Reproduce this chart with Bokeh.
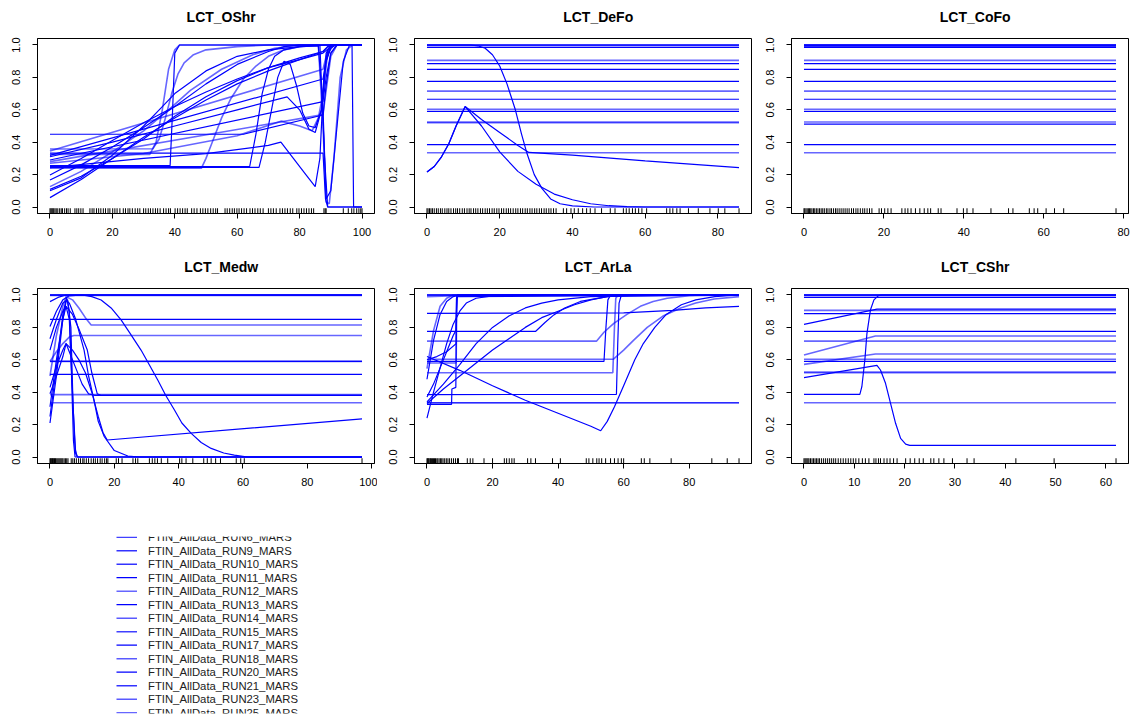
from bokeh.plotting import figure
from bokeh.layouts import column, row
from bokeh.models import Range1d, FixedTicker, PrintfTickFormatter, ColumnDataSource
from bokeh.embed import file_html
from bokeh.resources import INLINE
from bokeh.core.properties import value

FONT = "Liberation Sans"
BLUE = "#0000ff"
SOFT, SOLID = 0.6, 1.0

y_ticks = [0.0, 0.2, 0.4, 0.6, 0.8, 1.0]

# ---------------- LCT_OShr ----------------
oshr_xticks = [0, 20, 40, 60, 80, 100]
oshr_rug = [0.0, 0.3, 0.6, 0.9, 1.2, 1.6, 2.0, 2.5, 3.1, 3.6, 4.0, 4.7, 5.3, 5.8, 6.5, 8.0, 8.6, 9.2,
            9.9, 10.6, 12.8, 13.5, 14.1, 14.9, 15.6, 16.3, 17.1, 17.8, 18.6, 19.2, 20.1, 20.8, 21.5,
            22.4, 23.5, 24.2, 25.0, 25.6, 26.4, 27.3, 28.1, 28.8, 30.0, 30.7, 31.5, 32.2, 33.0, 33.8,
            34.5, 35.3, 36.4, 37.2, 38.0, 38.6, 40.1, 40.9, 41.7, 42.5, 43.3, 44.0, 45.4, 46.2, 47.1,
            48.2, 49.0, 49.8, 50.6, 51.5, 52.3, 53.1, 53.7, 56.1, 56.8, 57.6, 58.4, 59.1, 59.9, 60.6,
            61.4, 62.2, 63.0, 64.1, 64.9, 65.7, 66.6, 67.4, 68.3, 70.0, 70.8, 71.6, 72.5, 73.7, 74.5,
            75.3, 76.1, 77.0, 77.8, 79.1, 79.8, 80.6, 81.4, 82.2, 83.0, 83.8, 84.5, 87.8, 88.2, 88.5,
            94.0, 95.6, 96.7, 97.4, 98.3, 99.0, 99.6, 100.0]
oshr_curves = [
    ([0, 62, 87.5, 88.5, 90, 92, 100], [0.449, 0.449, 0.568, 0.75, 0.95, 1.0, 1.0]),
    ([0, 87.5, 88.3, 89, 100], [0.333, 0.333, 0.05, 0.0, 0.0]),
    ([0, 32, 34, 36, 38, 40, 41.5, 86, 87.5, 88.5, 89.5, 91, 93, 95, 97, 100],
     [0.325, 0.325, 0.4, 0.6, 0.85, 0.97, 1.0, 1.0, 0.5, 0.03, 0.02, 0.3, 0.8, 0.97, 1.0, 1.0]),
    ([0, 38.5, 39.3, 40, 41.5, 86.5, 88, 89, 100], [0.255, 0.255, 0.6, 0.95, 1.0, 1.0, 0.3, 0.0, 0.0]),
    ([0, 48.5, 50, 52, 55, 58, 62, 66, 70, 75, 80, 88, 100],
     [0.239, 0.239, 0.3, 0.4, 0.55, 0.67, 0.79, 0.87, 0.93, 0.97, 0.99, 1.0, 1.0]),
    ([0, 64, 66, 68, 70, 72, 75, 80, 88, 100], [0.25, 0.25, 0.45, 0.7, 0.85, 0.93, 0.97, 0.99, 1.0, 1.0]),
    ([0, 67, 69, 71, 73, 75, 77, 79, 81, 83, 85, 87, 88, 89, 90, 100],
     [0.245, 0.245, 0.4, 0.6, 0.8, 0.9, 0.88, 0.75, 0.58, 0.5, 0.49, 0.6, 0.85, 0.97, 1.0, 1.0]),
    ([0, 87.5, 88.5, 90, 91, 100], [0.346, 0.85, 0.93, 0.99, 1.0, 1.0]),
    ([0, 87.5, 88.5, 90, 91.5, 100], [0.319, 0.79, 0.9, 0.98, 1.0, 1.0]),
    ([0, 87.5, 88.5, 90, 92, 100], [0.29, 0.65, 0.8, 0.95, 1.0, 1.0]),
    ([0, 87.5, 88.5, 90, 92, 100], [0.28, 0.57, 0.72, 0.93, 1.0, 1.0]),
    ([0, 10, 20, 30, 40, 50, 60, 70, 80, 87.5, 90, 92, 100],
     [0.198, 0.3, 0.41, 0.52, 0.62, 0.71, 0.79, 0.86, 0.91, 0.95, 0.99, 1.0, 1.0]),
    ([0, 10, 20, 30, 40, 50, 60, 70, 75, 80, 96.8, 97.3, 100],
     [0.167, 0.26, 0.37, 0.49, 0.62, 0.76, 0.88, 0.96, 0.99, 1.0, 1.0, 0.0, 0.0]),
    ([0, 10, 20, 30, 38, 45, 55, 65, 72, 80, 100],
     [0.126, 0.22, 0.34, 0.47, 0.6, 0.72, 0.85, 0.94, 0.98, 1.0, 1.0]),
    ([0, 10, 20, 30, 40, 50, 60, 70, 80, 87.5, 89, 91, 100],
     [0.109, 0.19, 0.3, 0.42, 0.56, 0.68, 0.78, 0.86, 0.92, 0.96, 0.99, 1.0, 1.0]),
    ([0, 10, 20, 30, 35, 40, 50, 60, 70, 80, 86, 87.5, 88.5, 90, 92, 94, 96, 100],
     [0.10, 0.18, 0.32, 0.5, 0.6, 0.7, 0.84, 0.93, 0.97, 0.99, 0.995, 0.6, 0.05, 0.1, 0.5, 0.9, 1.0, 1.0]),
    ([0, 10, 20, 30, 40, 50, 60, 70, 80, 87.5, 89, 91, 100],
     [0.058, 0.17, 0.3, 0.43, 0.55, 0.66, 0.76, 0.84, 0.91, 0.96, 0.99, 1.0, 1.0]),
    ([0, 30, 60, 74, 80, 84, 86, 87.5, 89, 91, 100],
     [0.27, 0.33, 0.44, 0.53, 0.5, 0.47, 0.55, 0.7, 0.95, 1.0, 1.0]),
    ([0, 20, 40, 60, 76, 80, 83, 85, 87, 88.5, 90, 100],
     [0.31, 0.4, 0.5, 0.6, 0.68, 0.6, 0.48, 0.46, 0.6, 0.9, 1.0, 1.0]),
    ([0, 30, 50, 70, 74, 78, 82, 85, 86.5, 87.5, 88.5, 90, 100],
     [0.243, 0.3, 0.33, 0.38, 0.40, 0.3, 0.2, 0.126, 0.3, 0.7, 0.95, 1.0, 1.0]),
    ([0, 33, 35, 37, 39, 41, 43, 46, 50, 60, 70, 100],
     [0.358, 0.36, 0.42, 0.55, 0.7, 0.82, 0.89, 0.94, 0.97, 0.99, 1.0, 1.0]),
]
oshr_alpha = [1, 1, 0.6, 1, 0.6, 1, 1, 0.6, 1, 1, 0.6, 1, 1, 0.6, 1, 1, 1, 0.6, 1, 1, 0.6]

# ---------------- LCT_DeFo ----------------
defo_xticks = [0, 20, 40, 60, 80]
defo_rug = [0.0, 0.3, 0.7, 1.1, 1.5, 2.0, 2.6, 3.1, 3.7, 4.2, 4.9, 5.5, 6.0, 6.6, 7.3, 7.9, 8.4, 9.0,
            9.7, 10.3, 11.0, 11.6, 12.1, 12.8, 13.4, 14.0, 14.7, 15.3, 16.0, 16.6, 17.2, 17.9, 18.5,
            19.2, 19.8, 20.5, 21.1, 21.8, 22.4, 23.0, 23.7, 24.4, 25.0, 25.7, 26.3, 27.0, 27.6, 28.3,
            28.9, 29.6, 30.2, 30.9, 31.5, 32.2, 32.8, 33.5, 34.1, 34.8, 35.5, 37.5, 38.4, 39.6, 40.5,
            41.6, 42.8, 43.9, 44.9, 46.2, 48.0, 50.4, 51.7, 54.0, 54.8, 55.6, 56.5, 57.3, 58.2, 59.1,
            60.4, 65.9, 66.8, 67.6, 68.7, 69.6, 71.9, 74.6, 77.8, 80.1, 81.9, 85.8]
defo_levels = [1.0, 1.0, 0.997, 0.985, 0.905, 0.885, 0.85, 0.775, 0.715, 0.665, 0.603, 0.59,
               0.525, 0.52, 0.385, 0.335]
defo_level_alpha = [1, 1, 0.6, 1, 0.6, 1, 1, 1, 0.6, 1, 0.6, 1, 0.6, 0.6, 1, 0.6]
defo_curves = [
    ([0, 12, 14, 16, 18, 20, 22, 24.3, 26, 27.5, 29.5, 31.6, 34, 36.6, 40, 46, 85.8],
     [1, 1, 0.995, 0.98, 0.94, 0.87, 0.76, 0.6, 0.45, 0.33, 0.2, 0.115, 0.05, 0.02, 0.007, 0, 0]),
    ([0, 2, 4, 6, 8, 10.5, 15, 20, 25, 28, 40, 60, 85.8],
     [0.216, 0.25, 0.31, 0.39, 0.5, 0.62, 0.54, 0.46, 0.38, 0.337, 0.32, 0.285, 0.243]),
    ([0, 2, 4, 6, 8, 10.5, 15, 20, 25, 30, 35, 40, 45, 50, 55, 60, 85.8],
     [0.216, 0.25, 0.31, 0.39, 0.5, 0.62, 0.5, 0.34, 0.22, 0.14, 0.08, 0.045, 0.02, 0.008, 0.003, 0.0, 0.0]),
]
defo_curve_alpha = [1, 1, 1]

# ---------------- LCT_CoFo ----------------
cofo_xticks = [0, 20, 40, 60, 80]
cofo_rug = [0.0, 0.2, 0.5, 0.8, 1.1, 1.4, 1.7, 2.0, 2.4, 2.7, 3.1, 3.5, 3.9, 4.3, 4.7, 5.1, 5.6, 6.0,
            6.5, 6.9, 7.4, 7.9, 8.3, 8.8, 9.3, 9.8, 10.3, 10.8, 11.3, 11.9, 12.4, 13.0, 13.5, 14.1,
            14.7, 15.2, 15.8, 16.4, 17.0, 18.8, 19.4, 20.2, 21.0, 21.8, 24.5, 25.3, 26.0, 26.8, 27.9,
            29.0, 30.1, 31.0, 31.7, 33.6, 34.3, 38.3, 39.9, 40.8, 42.3, 46.8, 51.2, 52.3, 56.4, 57.6,
            58.5, 60.6, 62.7, 65.0, 78.1]
cofo_levels = [1.0, 1.0, 1.0, 0.997, 0.993, 0.985, 0.905, 0.885, 0.85, 0.775, 0.715, 0.665, 0.603,
               0.59, 0.525, 0.512, 0.385, 0.335]
cofo_level_alpha = [1, 1, 1, 0.6, 1, 1, 0.6, 1, 1, 1, 0.6, 1, 0.6, 1, 0.6, 1, 1, 0.6]

# ---------------- LCT_Medw ----------------
medw_xticks = [0, 20, 40, 60, 80, 100]
medw_rug = [0.0, 0.2, 0.4, 0.6, 0.8, 1.0, 1.2, 1.4, 1.7, 1.9, 2.2, 2.5, 2.8, 3.1, 3.4, 3.7, 4.0, 4.4,
            4.8, 5.2, 5.6, 6.6, 7.1, 7.6, 8.2, 8.9, 9.5, 10.2, 10.6, 11.3, 12.0, 12.8, 13.5, 14.1,
            14.8, 15.6, 16.2, 17.0, 17.6, 18.0, 20.6, 21.3, 22.4, 25.8, 26.6, 27.3, 30.9, 31.8, 32.6,
            33.4, 34.6, 36.6, 40.3, 41.0, 42.3, 44.4, 47.8, 48.9, 50.1, 51.5, 53.0, 57.9, 59.3, 60.4,
            97.0]
medw_levels = [1.0, 1.0, 1.0, 0.997, 0.85, 0.59, 0.59, 0.51, 0.385, 0.335]
medw_level_alpha = [1, 1, 1, 0.6, 1, 0.6, 1, 1, 0.6, 0.6]
medw_curves = [
    ([0, 2.5, 5, 97], [0.959, 0.985, 1.0, 1.0]),
    ([0, 2, 4, 5.5, 6.5, 7.2, 8, 8.6, 97], [0.73, 0.85, 0.95, 0.97, 0.8, 0.3, 0.02, 0.0, 0.0]),
    ([0, 2, 4, 5, 7, 9, 11.6, 13, 14.7, 16, 97],
     [0.66, 0.8, 0.9, 0.93, 0.88, 0.79, 0.66, 0.52, 0.39, 0.38, 0.38]),
    ([0, 2, 4, 6, 7.4, 97], [0.59, 0.65, 0.7, 0.74, 0.75, 0.75]),
    ([0, 2, 4, 5, 7, 9, 11, 13, 15, 16.5, 17.8, 97],
     [0.43, 0.56, 0.66, 0.7, 0.66, 0.6, 0.52, 0.4, 0.25, 0.15, 0.105, 0.235]),
    ([0, 2, 4, 5, 6, 8, 10.6, 12, 13.7, 15, 16.9, 20, 24.2, 28, 97],
     [0.25, 0.55, 0.88, 0.97, 0.95, 0.85, 0.66, 0.5, 0.35, 0.22, 0.125, 0.04, 0.006, 0.0, 0.0]),
    ([0, 2, 4, 5.2, 6, 6.7, 7.3, 7.8, 97], [0.21, 0.5, 0.85, 0.98, 0.9, 0.5, 0.1, 0.0, 0.0]),
    ([0, 2, 4, 5, 7, 9, 11, 12.8, 97], [0.5, 0.75, 0.93, 0.99, 0.97, 0.92, 0.86, 0.815, 0.815]),
    ([0, 2, 4, 5, 6, 7, 7.8, 8.5, 97], [0.31, 0.6, 0.85, 0.93, 0.85, 0.4, 0.05, 0.0, 0.0]),
    ([0, 2, 4, 5, 6, 8, 10, 12, 14, 97], [0.39, 0.5, 0.62, 0.7, 0.65, 0.55, 0.45, 0.39, 0.38, 0.38]),
    ([0, 2, 4, 6, 10, 13, 15.9, 19, 22.1, 25, 28.3, 31, 33.5, 36, 38.7, 41, 43.9, 47, 50.1, 54, 57.3, 61.5, 97],
     [0.805, 0.9, 0.97, 0.995, 1.0, 0.99, 0.969, 0.92, 0.846, 0.76, 0.66, 0.565, 0.475, 0.38, 0.29,
      0.21, 0.146, 0.09, 0.053, 0.025, 0.012, 0.0, 0.0]),
]
medw_curve_alpha = [1, 1, 1, 0.6, 1, 1, 1, 0.6, 1, 1, 1]

# ---------------- LCT_ArLa ----------------
arla_xticks = [0, 20, 40, 60, 80]
arla_rug = [0.0, 0.2, 0.4, 0.6, 0.9, 1.1, 1.4, 1.7, 2.0, 2.3, 2.6, 3.0, 3.3, 3.7, 4.1, 4.5, 4.9, 5.4,
            5.9, 6.4, 6.9, 7.5, 8.1, 8.7, 9.3, 9.6, 12.3, 13.2, 14.0, 17.4, 20.0, 23.6, 24.3, 25.1,
            25.9, 26.6, 30.7, 31.7, 33.1, 38.3, 40.7, 48.6, 49.4, 50.6, 51.8, 52.5, 53.3, 54.5, 56.0,
            57.2, 58.3, 59.3, 60.0, 65.4, 66.3, 68.0, 74.5, 86.9, 91.6, 95.2]
arla_levels = [1.0, 1.0, 1.0, 0.335, 0.335]
arla_level_alpha = [1, 1, 0.6, 0.6, 0.6]
arla_curves = [
    ([0, 9, 20, 95.2], [0.99, 0.995, 1.0, 1.0]),
    ([0, 60, 75, 85, 95.2], [0.887, 0.89, 0.905, 0.92, 0.93]),
    ([0, 33.1, 36, 38.7, 42, 46.8, 55, 65, 95.2], [0.775, 0.775, 0.83, 0.877, 0.92, 0.96, 0.99, 1.0, 1.0]),
    ([0, 51.7, 54, 57, 61, 65.1, 69, 73.3, 80, 95.2],
     [0.715, 0.715, 0.77, 0.825, 0.88, 0.93, 0.96, 0.98, 0.995, 1.0]),
    ([0, 56.8, 60, 63, 67.2, 72, 77.4, 82, 87.6, 95.2],
     [0.603, 0.603, 0.66, 0.72, 0.8, 0.87, 0.92, 0.95, 0.975, 0.99]),
    ([0, 54, 54.6, 55.2, 56, 95.2], [0.59, 0.59, 0.8, 0.97, 1.0, 1.0]),
    ([0, 56.7, 57.2, 57.6, 58.3, 95.2], [0.52, 0.52, 0.8, 0.98, 1.0, 1.0]),
    ([0, 57.8, 58.2, 58.6, 59.3, 95.2], [0.385, 0.387, 0.7, 0.95, 1.0, 1.0]),
    ([0, 7.5, 7.6, 8.8, 9.0, 9.3, 95.2], [0.325, 0.325, 0.42, 0.43, 0.9, 1.0, 1.0]),
    ([0, 10, 20, 30, 40, 50, 53, 55, 57.2, 60, 63.4, 66, 69.5, 73, 77.6, 82, 87.8, 95.2],
     [0.62, 0.535, 0.44, 0.35, 0.27, 0.19, 0.162, 0.22, 0.31, 0.44, 0.6, 0.7, 0.8, 0.88, 0.94, 0.97, 0.99, 1.0]),
    ([0, 2, 4, 6, 8, 10, 95.2], [0.48, 0.72, 0.88, 0.96, 0.99, 1.0, 1.0]),
    ([0, 2, 4, 6, 8, 95.2], [0.545, 0.78, 0.93, 0.98, 1.0, 1.0]),
    ([0, 2, 4, 6, 8, 8.8, 9.0, 9.3, 95.2], [0.37, 0.45, 0.55, 0.65, 0.75, 0.78, 0.98, 1.0, 1.0]),
    ([0, 2, 4, 6, 8, 10, 12, 15, 20, 95.2], [0.24, 0.4, 0.55, 0.7, 0.82, 0.9, 0.95, 0.98, 0.995, 1.0]),
    ([0, 5, 10, 15, 20, 25, 30, 35, 40, 45, 50, 55, 60, 95.2],
     [0.33, 0.42, 0.5, 0.58, 0.66, 0.73, 0.8, 0.86, 0.9, 0.94, 0.97, 0.99, 1.0, 1.0]),
    ([0, 5, 10, 15, 20, 25, 30, 35, 40, 50, 95.2],
     [0.34, 0.45, 0.57, 0.7, 0.8, 0.87, 0.92, 0.95, 0.97, 0.99, 1.0]),
    ([0, 8.9, 9.1, 9.4, 95.2], [0.58, 0.58, 0.98, 1.0, 1.0]),
    ([0, 3, 6, 8.9, 9.1, 95.2], [0.6, 0.62, 0.65, 0.7, 0.99, 1.0]),
]
arla_curve_alpha = [0.6, 1, 1, 0.6, 0.6, 1, 0.6, 1, 1, 1, 1, 0.6, 1, 1, 1, 1, 0.6, 1]

# ---------------- LCT_CShr ----------------
cshr_xticks = [0, 10, 20, 30, 40, 50, 60]
cshr_rug = [0.0, 0.2, 0.4, 0.6, 0.8, 1.0, 1.3, 1.6, 1.9, 2.2, 2.5, 2.8, 3.1, 3.5, 3.9, 4.3, 4.7, 5.1,
            5.5, 5.9, 6.3, 6.8, 7.3, 7.8, 8.3, 8.8, 9.3, 9.8, 10.3, 10.9, 11.6, 12.2, 12.9, 13.9, 14.3,
            14.8, 15.2, 15.9, 16.5, 17.1, 17.8, 18.5, 20.2, 21.1, 22.0, 22.9, 23.7, 25.2, 25.8, 26.8,
            27.8, 29.5, 32.4, 33.8, 42.1, 49.7, 62.0]
cshr_levels = [1.0, 1.0, 1.0, 0.997, 0.985, 0.905, 0.885, 0.775, 0.715, 0.603, 0.59, 0.525, 0.52, 0.335]
cshr_level_alpha = [1, 1, 1, 0.6, 1, 0.6, 1, 1, 0.6, 0.6, 1, 0.6, 0.6, 0.6]
cshr_curves = [
    ([0, 14.5, 62], [0.819, 0.913, 0.913]),
    ([0, 14.2, 62], [0.63, 0.747, 0.747]),
    ([0, 14.2, 62], [0.572, 0.636, 0.636]),
    ([0, 14.5, 15.2, 16.2, 17.2, 18.2, 19.2, 20.2, 21, 62],
     [0.49, 0.566, 0.537, 0.455, 0.331, 0.208, 0.115, 0.08, 0.072, 0.072]),
    ([0, 11.1, 11.5, 12.1, 12.5, 13.2, 13.9, 14.8, 15.5, 62],
     [0.387, 0.387, 0.434, 0.6, 0.76, 0.907, 0.97, 0.996, 1.0, 1.0]),
]
cshr_curve_alpha = [1, 0.6, 0.6, 1, 1]

# ---------------- legend ----------------
legend_runs = ["RUN6", "RUN9", "RUN10", "RUN11", "RUN12", "RUN13", "RUN14", "RUN15",
               "RUN17", "RUN18", "RUN20", "RUN21", "RUN23", "RUN25"]
legend_alpha = [0.75, 0.8, 0.8, 1, 0.6, 1, 0.65, 0.75, 1, 0.65, 1, 0.8, 0.65, 0.6]


def flat(levels, rug):
    lo, hi = min(rug), max(rug)
    return [([lo, hi], [v, v]) for v in levels]


def width_for(alphas):
    return [1.2 if a == SOLID else 1.6 for a in alphas]


Y_LO, Y_HI = -0.04, 1.04
PANEL_W, PANEL_H = 377, 250
BOX_LEFT, BOX_RIGHT_GAP = 37, 3
HEAD_H = 30            # strip holding the panel heading
BOX_TOP, BOX_H = 38, 175
TITLE_Y = 16           # heading centre, from the top of the panel


def heading(name):
    h = figure(width=PANEL_W, height=HEAD_H, output_backend="svg", toolbar_location=None,
               x_range=Range1d(0, PANEL_W), y_range=Range1d(HEAD_H, 0),
               min_border_left=0, min_border_right=0, min_border_top=0, min_border_bottom=0,
               x_axis_location=None, y_axis_location=None)
    h.outline_line_color = None
    h.xgrid.visible = False
    h.ygrid.visible = False
    box_mid = BOX_LEFT + (PANEL_W - BOX_LEFT - BOX_RIGHT_GAP) / 2
    h.text(x=[box_mid], y=[TITLE_Y], text=[name], text_align="center", text_baseline="middle",
           text_font=value(FONT), text_font_size="14px", text_font_style="bold",
           text_color="black")
    return h


def response_panel(name, curves, alphas, rug, xticks):
    x_lo, x_hi = min(rug), max(rug)
    pad = 0.04 * (x_hi - x_lo)
    p = figure(width=PANEL_W, height=PANEL_H - HEAD_H, output_backend="svg", toolbar_location=None,
               x_range=Range1d(x_lo - pad, x_hi + pad), y_range=Range1d(Y_LO, Y_HI),
               min_border_left=BOX_LEFT, min_border_right=BOX_RIGHT_GAP,
               min_border_top=BOX_TOP - HEAD_H, min_border_bottom=PANEL_H - BOX_TOP - BOX_H)
    p.xgrid.visible = False
    p.ygrid.visible = False
    p.outline_line_color = "black"
    p.outline_line_alpha = 1.0
    p.outline_line_width = 1
    for ax in (p.xaxis[0], p.yaxis[0]):
        ax.axis_line_color = "black"
        ax.major_tick_line_color = "black"
        ax.major_tick_out = 5
        ax.major_tick_in = 0
        ax.minor_tick_line_color = None
        ax.major_label_text_font = FONT
        ax.major_label_text_font_size = "11px"
        ax.major_label_text_color = "black"
    p.xaxis.ticker = FixedTicker(ticks=xticks)
    p.yaxis.ticker = FixedTicker(ticks=y_ticks)
    p.yaxis.formatter = PrintfTickFormatter(format="%.1f")
    p.yaxis.major_label_orientation = "vertical"
    p.xaxis.major_label_standoff = 9
    p.yaxis.major_label_standoff = 12

    src = ColumnDataSource(dict(xs=[c[0] for c in curves], ys=[c[1] for c in curves],
                                a=list(alphas), w=width_for(alphas)))
    p.multi_line("xs", "ys", source=src, line_color=BLUE, line_alpha="a", line_width="w")

    rug_len = 0.03 * (Y_HI - Y_LO)
    p.segment(x0=rug, y0=Y_LO, x1=rug, y1=Y_LO + rug_len, line_color="black", line_width=1)
    return column(heading(name), p)


p1 = response_panel("LCT_OShr", oshr_curves, oshr_alpha, oshr_rug, oshr_xticks)
p2 = response_panel("LCT_DeFo", flat(defo_levels, defo_rug) + defo_curves,
                    defo_level_alpha + defo_curve_alpha, defo_rug, defo_xticks)
p3 = response_panel("LCT_CoFo", flat(cofo_levels, cofo_rug), cofo_level_alpha, cofo_rug, cofo_xticks)
p4 = response_panel("LCT_Medw", flat(medw_levels, medw_rug) + medw_curves,
                    medw_level_alpha + medw_curve_alpha, medw_rug, medw_xticks)
p5 = response_panel("LCT_ArLa", flat(arla_levels, arla_rug) + arla_curves,
                    arla_level_alpha + arla_curve_alpha, arla_rug, arla_xticks)
p6 = response_panel("LCT_CShr", flat(cshr_levels, cshr_rug) + cshr_curves,
                    cshr_level_alpha + cshr_curve_alpha, cshr_rug, cshr_xticks)

# legend block: a clipped list of run entries, in pixel-like coordinates
LEG_W, LEG_H, LEG_TOP, LEG_BOTTOM = 377, 215, 36, 2
leg = figure(width=LEG_W, height=LEG_H, output_backend="svg", toolbar_location=None,
             x_range=Range1d(0, LEG_W), y_range=Range1d(LEG_H - LEG_BOTTOM, LEG_TOP),
             min_border_left=0, min_border_right=0, min_border_top=LEG_TOP,
             min_border_bottom=LEG_BOTTOM, x_axis_location=None, y_axis_location=None)
leg.outline_line_color = None
leg.xgrid.visible = False
leg.ygrid.visible = False
row_y = [LEG_TOP + 0.7 + 13.5 * i for i in range(len(legend_runs))]
leg.segment(x0=116, x1=136.5, y0=row_y, y1=row_y, line_color=BLUE,
            line_alpha=legend_alpha, line_width=width_for(legend_alpha))
leg.text(x=147.5, y=row_y, text=["FTIN_AllData_%s_MARS" % r for r in legend_runs],
         text_font=value(FONT), text_font_size="11.3px", text_baseline="middle",
         text_align="left", text_color="#222222")

layout = column(row(p1, p2, p3), row(p4, p5, p6), leg)
open("out.html", "w").write(file_html(layout, INLINE))
